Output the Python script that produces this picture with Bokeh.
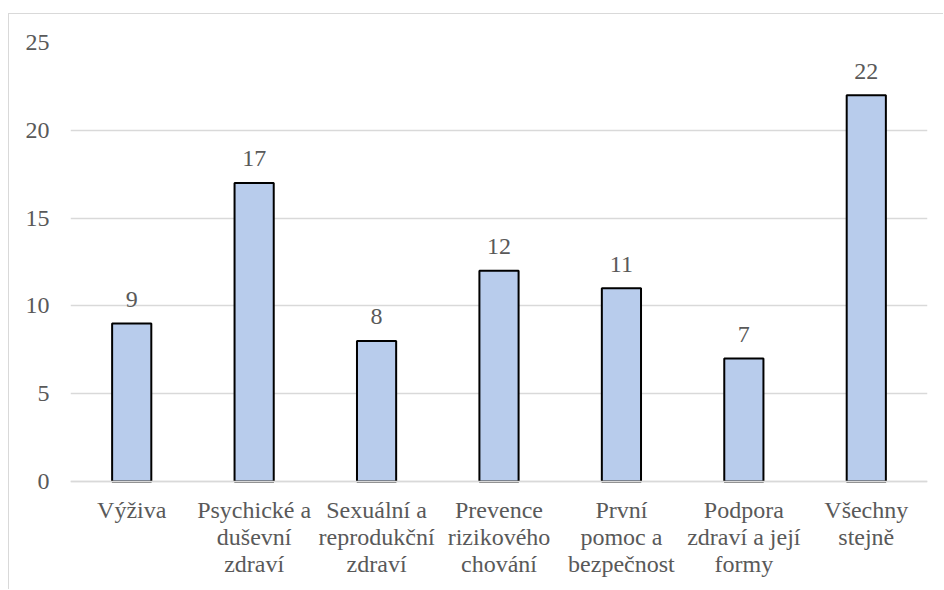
from bokeh.plotting import figure
from bokeh.models import ColumnDataSource, FixedTicker, Span
from bokeh.core.properties import value
from bokeh.embed import file_html
from bokeh.resources import INLINE

categories = ["Výživa", "Psychické a\nduševní\nzdraví", "Sexuální a\nreprodukční\nzdraví",
              "Prevence\nrizikového\nchování", "První\npomoc a\nbezpečnost",
              "Podpora\nzdraví a její\nformy", "Všechny\nstejně"]
values = [9, 17, 8, 12, 11, 7, 22]
y_ticks = [0, 5, 10, 15, 20, 25]

FONT = "Times New Roman, Liberation Serif, serif"
TXT = "#595959"
GRID = "#D9D9D9"
FS = "24px"

src = ColumnDataSource(dict(cat=categories, val=values, lab=[str(v) for v in values]))

# one entry per text line of the category labels
lx, ly, lt, lo = [], [], [], []
for c in categories:
    for i, line in enumerate(c.split("\n")):
        lx.append(c)
        ly.append(0)
        lt.append(line)
        lo.append(29 + i * 26.7)
lsrc = ColumnDataSource(dict(x=lx, y=ly, t=lt, o=lo))

p = figure(x_range=categories, y_range=(-6.21, 25), width=935, height=576,
           output_backend="svg", toolbar_location=None,
           min_border_left=61, min_border_right=17, min_border_top=28, min_border_bottom=0)
p.margin = (13, 0, 0, 8)
p.styles = {"border-left": "1px solid #D9D9D9", "border-top": "1px solid #D9D9D9"}
p.outline_line_color = None
p.background_fill_color = "white"
p.border_fill_color = "white"

p.xgrid.grid_line_color = None
p.ygrid.grid_line_color = GRID
p.ygrid.grid_line_width = 1.5
p.ygrid.ticker = FixedTicker(ticks=y_ticks)
p.add_layout(Span(location=0, dimension="width", line_color=GRID, line_width=1.5))

p.vbar(x="cat", top="val", bottom=0, width=0.32, source=src,
       fill_color="#B8CCEC", line_color="black", line_width=2)
p.text(x="cat", y="val", text="lab", source=src, text_align="center",
       text_baseline="middle", y_offset=-24, text_font=value(FONT),
       text_font_size=FS, text_color=TXT)
p.text(x="x", y="y", text="t", y_offset="o", source=lsrc,
       text_align="center", text_baseline="middle",
       text_font=value(FONT), text_font_size=FS, text_color=TXT)

p.yaxis.ticker = FixedTicker(ticks=y_ticks)
p.yaxis.axis_line_color = None
p.yaxis.major_tick_line_color = None
p.yaxis.minor_tick_line_color = None
p.yaxis.major_tick_out = 0
p.yaxis.major_tick_in = 0
p.yaxis.major_label_standoff = 21
p.yaxis.major_label_text_font = FONT
p.yaxis.major_label_text_font_size = FS
p.yaxis.major_label_text_color = TXT

p.xaxis.visible = False

open("out.html", "w").write(file_html(p, INLINE))
